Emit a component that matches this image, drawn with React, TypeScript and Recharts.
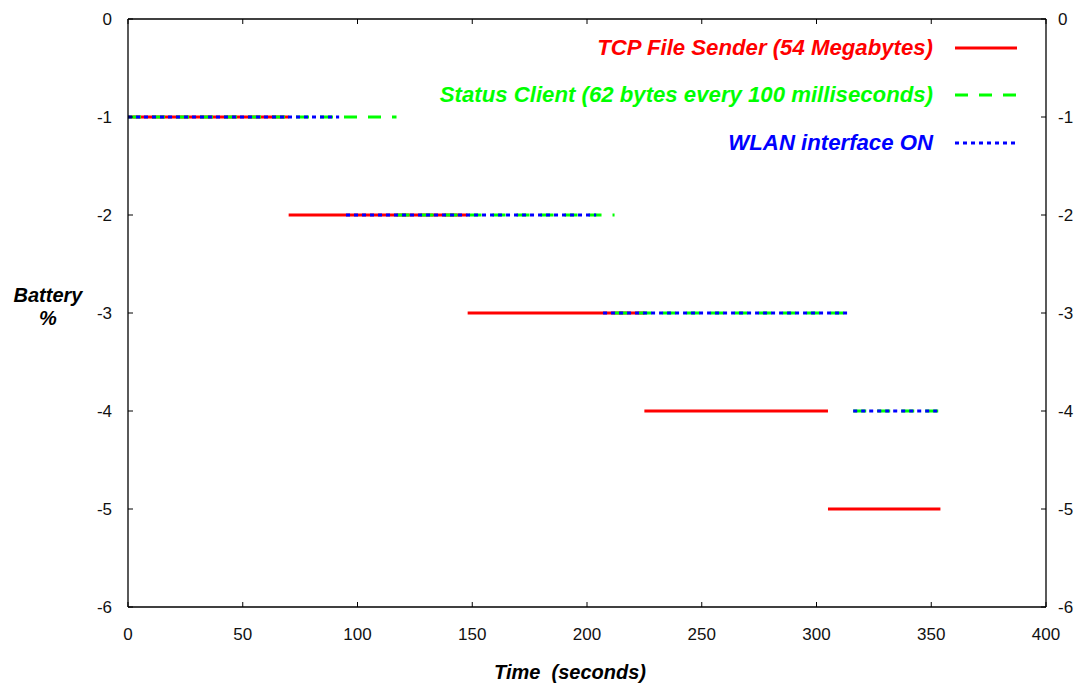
import React from 'react';
import { LineChart, Line, XAxis, YAxis, Legend } from 'recharts';

// ---- data ----
const xTicks = [0, 50, 100, 150, 200, 250, 300, 350, 400];
const yTicks = [0, -1, -2, -3, -4, -5, -6];

const seriesNames = [
  'TCP File Sender (54 Megabytes)',
  'Status Client (62 bytes every 100 milliseconds)',
  'WLAN interface ON',
];

// TCP File Sender segments (seconds, battery %)
const tcpStarts = [0, 70, 148, 225, 305];
const tcpEnds = [70, 148, 225, 305, 354];
const tcpLevels = [-1, -2, -3, -4, -5];

// Status Client segments
const statusStarts = [0, 117, 212, 316];
const statusEnds = [117, 212, 315, 355];
const statusLevels = [-1, -2, -3, -4];

// WLAN interface ON segments
const wlanStarts = [0, 95, 207, 316];
const wlanEnds = [92, 204, 315, 354];
const wlanLevels = [-1, -2, -3, -4];

type Pt = { x: number; y: number | null };

function buildSegments(starts: number[], ends: number[], levels: number[]): Pt[] {
  const pts: Pt[] = [];
  starts.forEach((s, i) => {
    pts.push({ x: s, y: levels[i] });
    pts.push({ x: ends[i], y: levels[i] });
    pts.push({ x: ends[i], y: null });
  });
  return pts;
}

const tcpData = buildSegments(tcpStarts, tcpEnds, tcpLevels);
const statusData = buildSegments(statusStarts, statusEnds, statusLevels);
const wlanData = buildSegments(wlanStarts, wlanEnds, wlanLevels);

// ---- styles ----
const RED = '#ff0000';
const GREEN = '#00ff00';
const BLUE = '#0000ff';
const TICK_FONT = "'Liberation Sans', Arial, sans-serif";
const TICK_SIZE = 17;
const TICK_LEN = 5;

const LeftTick = (props: any) => {
  const { x, y, payload } = props;
  const m = 16;
  return (
    <g>
      <line x1={x + m} x2={x + m + TICK_LEN} y1={y} y2={y} stroke="#000" strokeWidth={1} />
      <text x={x} y={y} dy={6} textAnchor="end" fontSize={TICK_SIZE} fontFamily={TICK_FONT} fill="#111">
        {payload.value}
      </text>
    </g>
  );
};

const RightTick = (props: any) => {
  const { x, y, payload } = props;
  const m = 12;
  return (
    <g>
      <line x1={x - m} x2={x - m - TICK_LEN} y1={y} y2={y} stroke="#000" strokeWidth={1} />
      <text x={x} y={y} dy={6} textAnchor="start" fontSize={TICK_SIZE} fontFamily={TICK_FONT} fill="#111">
        {payload.value}
      </text>
    </g>
  );
};

const BottomTick = (props: any) => {
  const { x, y, payload } = props;
  return (
    <g>
      <line x1={x} x2={x} y1={y} y2={y - TICK_LEN} stroke="#000" strokeWidth={1} />
      <text x={x} y={y + 33} textAnchor="middle" fontSize={TICK_SIZE} fontFamily={TICK_FONT} fill="#111">
        {payload.value}
      </text>
    </g>
  );
};

const TopTick = (props: any) => {
  const { x, y } = props;
  return <line x1={x} x2={x} y1={y} y2={y + TICK_LEN} stroke="#000" strokeWidth={1} />;
};

const TITLE_STYLE: React.CSSProperties = {
  fontFamily: TICK_FONT,
  fontWeight: 'bold',
  fontStyle: 'italic',
};

const YTitle = () => (
  <g>
    <text x={48} y={302} textAnchor="middle" fontSize={20} fill="#000" style={TITLE_STYLE}>
      Battery
    </text>
    <text x={48} y={325} textAnchor="middle" fontSize={20} fill="#000" style={TITLE_STYLE}>
      %
    </text>
  </g>
);

const XTitle = () => (
  <text x={570} y={679} textAnchor="middle" fontSize={20} fill="#000" style={{ ...TITLE_STYLE, whiteSpace: 'pre' }} xmlSpace="preserve">
    {'Time  (seconds)'}
  </text>
);

const legendItems = [
  { name: seriesNames[0], color: RED, dash: undefined as string | undefined },
  { name: seriesNames[1], color: GREEN, dash: '13 11' },
  { name: seriesNames[2], color: BLUE, dash: '4 4' },
];

const LegendContent = () => (
  <div style={{ width: 650 }}>
    {legendItems.map((it) => (
      <div
        key={it.name}
        style={{
          height: 47.5,
          display: 'flex',
          alignItems: 'center',
          justifyContent: 'flex-end',
          paddingRight: 13,
        }}
      >
        <span
          style={{
            color: it.color,
            fontFamily: TICK_FONT,
            fontWeight: 'bold',
            fontStyle: 'italic',
            fontSize: 22.2,
            whiteSpace: 'nowrap',
            marginRight: 22,
          }}
        >
          {it.name}
        </span>
        <svg width={62} height={10} style={{ flex: 'none' }}>
          <line x1={0} x2={62} y1={5} y2={5} stroke={it.color} strokeWidth={3} strokeDasharray={it.dash} />
        </svg>
      </div>
    ))}
  </div>
);

export default function App() {
  return (
    <div style={{ position: 'absolute', left: 0, top: 0, width: 1077, height: 684, background: '#fff' }}>
      <LineChart width={1077} height={684} margin={{ top: 0, right: 0, bottom: 0, left: 0 }}>
        <XAxis
          xAxisId="b"
          type="number"
          dataKey="x"
          domain={[0, 400]}
          ticks={xTicks}
          interval={0}
          height={77}
          tickSize={0}
          tickMargin={0}
          tickLine={false}
          axisLine={{ stroke: '#000', strokeWidth: 1.3 }}
          tick={<BottomTick />}
          allowDataOverflow
          label={<XTitle />}
        />
        <XAxis
          xAxisId="t"
          orientation="top"
          type="number"
          dataKey="x"
          domain={[0, 400]}
          ticks={xTicks}
          interval={0}
          height={19}
          tickSize={0}
          tickMargin={0}
          tickLine={false}
          axisLine={{ stroke: '#000', strokeWidth: 1.3 }}
          tick={<TopTick />}
          allowDataOverflow
        />
        <YAxis
          yAxisId="l"
          type="number"
          domain={[-6, 0]}
          ticks={yTicks}
          interval={0}
          width={128}
          tickSize={0}
          tickMargin={16}
          tickLine={false}
          axisLine={{ stroke: '#000', strokeWidth: 1.3 }}
          tick={<LeftTick />}
          allowDataOverflow
          label={<YTitle />}
        />
        <YAxis
          yAxisId="r"
          orientation="right"
          type="number"
          domain={[-6, 0]}
          ticks={yTicks}
          interval={0}
          width={31}
          tickSize={0}
          tickMargin={12}
          tickLine={false}
          axisLine={{ stroke: '#000', strokeWidth: 1.3 }}
          tick={<RightTick />}
          allowDataOverflow
        />
        <Legend
          layout="horizontal"
          verticalAlign="middle"
          align="center"
          content={<LegendContent />}
          wrapperStyle={{ top: 24, left: 380, width: 650, height: 143 }}
        />
        <Line
          xAxisId="b"
          yAxisId="l"
          data={tcpData}
          dataKey="y"
          name={seriesNames[0]}
          stroke={RED}
          strokeWidth={3}
          dot={false}
          activeDot={false}
          type="linear"
          connectNulls={false}
          isAnimationActive={false}
        />
        <Line
          xAxisId="b"
          yAxisId="l"
          data={statusData}
          dataKey="y"
          name={seriesNames[1]}
          stroke={GREEN}
          strokeWidth={3}
          strokeDasharray="13 11"
          dot={false}
          activeDot={false}
          type="linear"
          connectNulls={false}
          isAnimationActive={false}
        />
        <Line
          xAxisId="b"
          yAxisId="l"
          data={wlanData}
          dataKey="y"
          name={seriesNames[2]}
          stroke={BLUE}
          strokeWidth={3}
          strokeDasharray="4 4"
          dot={false}
          activeDot={false}
          type="linear"
          connectNulls={false}
          isAnimationActive={false}
        />
      </LineChart>
    </div>
  );
}
